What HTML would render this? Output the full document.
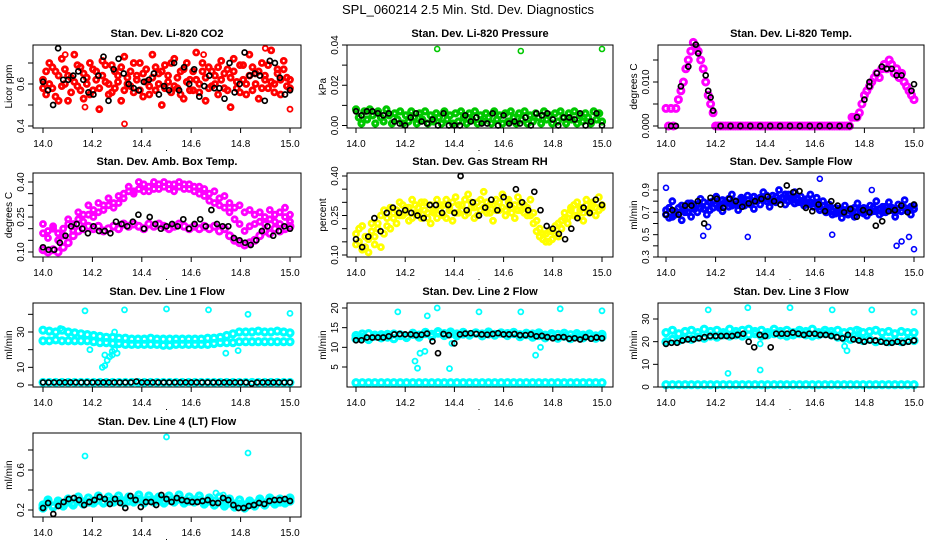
<!DOCTYPE html>
<html><head><meta charset="utf-8"><style>
body{margin:0;background:#fff;}
svg{display:block;font-family:"Liberation Sans",sans-serif;}
</style></head><body>
<svg id="chart" width="936" height="540" viewBox="0 0 936 540">
<rect width="936" height="540" fill="#fff"/>
<text x="468" y="14" font-size="13" text-anchor="middle">SPL_060214  2.5 Min. Std. Dev. Diagnostics</text>
</svg>
<script>
// ---- data arrays ----
const xTicks = [14.0,14.2,14.4,14.6,14.8,15.0];
const xTickLabels = ["14.0","14.2","14.4","14.6","14.8","15.0"];

const co2Red = [0.62,0.55,0.70,0.58,0.66,0.52,0.72,0.60,0.64,0.56,0.74,0.59,0.68,0.53,0.63,0.70,0.57,0.66,0.48,0.71,0.61,0.55,0.69,0.58,0.64,0.52,0.73,0.60,0.66,0.56,0.62,0.70,0.54,0.67,0.59,0.74,0.57,0.65,0.50,0.69,0.61,0.56,0.72,0.58,0.66,0.53,0.70,0.62,0.57,0.75,0.60,0.66,0.52,0.68,0.59,0.64,0.55,0.71,0.58,0.67,0.49,0.72,0.61,0.56,0.69,0.60,0.74,0.57,0.65,0.53,0.70,0.62,0.58,0.76,0.60,0.67,0.55,0.71,0.63,0.58];
const co2Red2 = [0.58,0.66,0.60,0.68,0.54,0.64,0.59,0.67,0.52,0.63,0.61,0.69,0.57,0.65,0.60,0.55,0.67,0.62,0.58,0.64,0.69,0.60,0.56,0.66,0.61,0.68,0.57,0.63,0.59,0.70,0.64,0.57,0.65,0.61,0.55,0.63,0.68,0.60,0.66,0.58,0.64,0.70,0.59,0.63,0.55,0.67,0.61,0.57,0.66,0.62,0.56,0.70,0.63,0.58,0.66,0.60,0.68,0.62,0.65,0.57,0.63,0.66,0.58,0.69,0.62,0.55,0.64,0.68,0.60,0.66,0.58,0.64,0.69,0.61,0.56,0.65,0.62,0.67,0.59,0.62];
const co2OutX = [14.33,15.0,14.9,14.17,14.09,14.65];
const co2OutY = [0.41,0.48,0.77,0.49,0.74,0.74];
const co2Black = [0.61,0.57,0.50,0.77,0.62,0.62,0.64,0.66,0.62,0.56,0.55,0.64,0.73,0.52,0.67,0.72,0.65,0.60,0.58,0.57,0.61,0.62,0.65,0.55,0.59,0.57,0.70,0.57,0.68,0.60,0.67,0.54,0.59,0.64,0.58,0.58,0.53,0.70,0.56,0.60,0.75,0.64,0.65,0.64,0.52,0.71,0.70,0.63,0.55,0.57];

const presGreen = [0.008,0.004,0.001,0.007,0.003,0.008,0.005,0.001,0.007,0.004,0.002,0.008,0.005,0.001,0.006,0.003,0.007,0.001,0.005,0.002,0.007,0.004,0.001,0.006,0.003,0.007,0.001,0.005,0.002,0.006,0.004,0.001,0.007,0.003,0.005,0.001,0.006,0.002,0.007,0.004,0.001,0.006,0.003,0.007,0.001,0.005,0.002,0.006,0.004,0.001,0.007,0.003,0.005,0.001,0.006,0.002,0.007,0.004,0.001,0.006,0.003,0.007,0.001,0.005,0.002,0.006,0.004,0.001,0.007,0.003,0.005,0.001,0.006,0.002,0.007,0.004,0.001,0.006,0.003,0.007,0.001,0.005,0.002,0.006,0.004,0.001,0.007,0.003,0.006,0.002];
const presOutX = [14.33,14.67,15.0];
const presOutY = [0.038,0.037,0.038];
const presBlack = [0.007,0.005,0.007,0.007,0.006,0.005,0.006,0.002,0.001,0.000,0.004,0.006,0.002,0.001,0.003,0.000,0.006,0.000,0.000,0.000,0.005,0.002,0.004,0.001,0.001,0.006,0.000,0.005,0.001,0.002,0.001,0.004,0.000,0.006,0.005,0.006,0.003,0.000,0.004,0.004,0.003,0.006,0.000,0.002,0.006,0.000];

const tempMag = [0.004,0.0,0.004,0.0,0.004,0.006,0.008,0.010,0.013,0.015,0.017,0.019,0.018,0.017,0.015,0.013,0.010,0.007,0.005,0.003,0.0,
0,0,0,0,0,0,0,0,0,0,0,0,0,0,0,0,0,0,0,0,0,0,0,0,0,0,0,0,0,0,0,0,0,0,0,0,0,0,0,0,0,0,0,0,0,0,0,0,0,0,0,0,0,0,
0.002,0.002,0.002,0.003,0.005,0.007,0.008,0.009,0.010,0.011,0.012,0.011,0.013,0.014,0.013,0.015,0.014,0.012,0.013,0.011,0.012,0.010,0.009,0.008,0.007,0.006];
const tempBlackX = [14.02,14.04,14.06,14.09,14.12,14.13,14.16,14.17,14.18,14.19,14.22,14.26,14.30,14.34,14.38,14.42,14.46,14.50,14.54,14.58,14.62,14.66,14.70,14.74,14.77,14.80,14.82,14.82,14.85,14.87,14.89,14.91,14.93,14.95,14.99,15.0];
const tempBlackY = [0,0,0.009,0.0135,0.0185,0.0165,0.0115,0.008,0.0065,0.0035,0,0,0,0,0,0,0,0,0,0,0,0,0,0,0.002,0.006,0.010,0.009,0.012,0.0135,0.013,0.013,0.0115,0.0115,0.008,0.0095];

const ambUpper = [0.22,0.19,0.21,0.18,0.20,0.24,0.22,0.27,0.26,0.30,0.28,0.31,0.30,0.33,0.31,0.34,0.33,0.36,0.35,0.37,0.36,0.38,0.37,0.39,0.38,0.37,0.39,0.38,0.37,0.39,0.36,0.38,0.37,0.35,0.36,0.33,0.34,0.31,0.29,0.30,0.27,0.28,0.26,0.27,0.25,0.28,0.26,0.27,0.29,0.26];
const ambMid = [0.18,0.16,0.20,0.15,0.17,0.22,0.19,0.24,0.23,0.26,0.25,0.27,0.28,0.30,0.29,0.31,0.35,0.38,0.36,0.40,0.39,0.36,0.40,0.37,0.40,0.39,0.36,0.40,0.39,0.37,0.38,0.35,0.34,0.32,0.31,0.30,0.29,0.27,0.24,0.22,0.19,0.21,0.22,0.23,0.22,0.24,0.23,0.22,0.25,0.23];
const ambLower = [0.11,0.10,0.11,0.10,0.12,0.14,0.17,0.19,0.20,0.21,0.20,0.21,0.19,0.20,0.21,0.20,0.22,0.21,0.22,0.21,0.20,0.22,0.21,0.22,0.21,0.20,0.21,0.22,0.21,0.20,0.21,0.20,0.21,0.20,0.21,0.19,0.20,0.17,0.15,0.14,0.13,0.14,0.15,0.17,0.19,0.18,0.20,0.19,0.20,0.21];
const ambBlack = [0.12,0.11,0.11,0.14,0.17,0.21,0.22,0.20,0.18,0.21,0.19,0.19,0.18,0.23,0.22,0.21,0.23,0.26,0.20,0.25,0.22,0.20,0.21,0.22,0.21,0.24,0.20,0.22,0.24,0.21,0.28,0.22,0.21,0.21,0.16,0.15,0.14,0.13,0.15,0.19,0.21,0.17,0.19,0.21,0.20];

const rhYellow = [0.14,0.20,0.12,0.17,0.11,0.19,0.14,0.22,0.13,0.18,0.24,0.20,0.26,0.22,0.30,0.25,0.28,0.23,0.31,0.26,0.28,0.24,0.30,0.26,0.22,0.27,0.24,0.29,0.25,0.31,0.27,0.23,0.32,0.26,0.29,0.25,0.33,0.28,0.24,0.30,0.27,0.34,0.26,0.29,0.23,0.31,0.27,0.33,0.25,0.30,0.28,0.24,0.32,0.27,0.29,0.25,0.31,0.26,0.23,0.20,0.18,0.15,0.19,0.16,0.21,0.17,0.20,0.24,0.22,0.28,0.25,0.30,0.27,0.23,0.31,0.26,0.29,0.25,0.32,0.28];
const rhYellow2 = [0.18,0.15,0.21,0.13,0.16,0.22,0.17,0.20,0.25,0.27,0.21,0.28,0.24,0.27,0.25,0.29,0.26,0.28,0.24,0.29,0.26,0.30,0.27,0.24,0.29,0.26,0.31,0.27,0.29,0.24,0.28,0.30,0.26,0.29,0.27,0.31,0.26,0.30,0.28,0.25,0.31,0.28,0.30,0.26,0.29,0.27,0.30,0.28,0.27,0.31,0.26,0.29,0.27,0.30,0.26,0.28,0.25,0.22,0.19,0.17,0.16,0.18,0.15,0.19,0.18,0.22,0.23,0.26,0.24,0.27,0.29,0.25,0.28,0.26,0.29,0.27,0.30,0.28,0.27,0.29];
const rhBlack = [0.16,0.13,0.17,0.24,0.19,0.26,0.28,0.26,0.27,0.26,0.25,0.24,0.29,0.29,0.26,0.29,0.26,0.40,0.27,0.30,0.25,0.28,0.31,0.27,0.32,0.29,0.35,0.30,0.27,0.34,0.27,0.21,0.20,0.18,0.16,0.20,0.24,0.28,0.26,0.31,0.29];

const flowBlue = [0.72,0.65,0.80,0.68,0.74,0.63,0.70,0.78,0.66,0.75,0.70,0.82,0.73,0.68,0.79,0.74,0.84,0.76,0.71,0.80,0.75,0.86,0.77,0.72,0.81,0.76,0.85,0.78,0.73,0.82,0.77,0.88,0.80,0.75,0.85,0.79,0.90,0.82,0.77,0.86,0.81,0.88,0.79,0.84,0.76,0.82,0.86,0.78,0.83,0.75,0.80,0.72,0.77,0.68,0.74,0.70,0.65,0.76,0.69,0.73,0.66,0.78,0.70,0.74,0.67,0.76,0.71,0.80,0.68,0.75,0.70,0.79,0.72,0.66,0.77,0.71,0.81,0.73,0.68,0.76];
const flowBlue2 = [0.68,0.74,0.66,0.71,0.69,0.76,0.72,0.70,0.78,0.73,0.77,0.74,0.79,0.76,0.72,0.80,0.77,0.74,0.81,0.78,0.82,0.76,0.80,0.78,0.83,0.79,0.81,0.77,0.84,0.80,0.83,0.81,0.85,0.82,0.80,0.84,0.81,0.83,0.86,0.80,0.83,0.78,0.82,0.79,0.81,0.77,0.79,0.75,0.78,0.72,0.76,0.70,0.74,0.71,0.69,0.73,0.70,0.72,0.68,0.71,0.74,0.70,0.73,0.69,0.72,0.70,0.74,0.71,0.73,0.70,0.75,0.72,0.74,0.70,0.73,0.71,0.74,0.72,0.75,0.73];
const flowOutX = [14.0,14.15,14.33,14.62,14.67,14.93,14.95,14.98,15.0,14.83,14.17];
const flowOutY = [0.92,0.49,0.48,1.0,0.50,0.40,0.44,0.48,0.37,0.90,0.57];
const flowBlack = [0.68,0.72,0.68,0.76,0.76,0.80,0.60,0.83,0.82,0.74,0.82,0.80,0.75,0.78,0.80,0.82,0.84,0.80,0.77,0.94,0.88,0.89,0.74,0.71,0.77,0.71,0.80,0.76,0.70,0.73,0.66,0.72,0.70,0.58,0.62,0.71,0.72,0.76,0.70,0.77];

const l1Upper = [31,30.5,30,31,30,29.5,29,28.5,28,27.5,27,27,26.5,26.5,26,26,26,26.5,26,26,26,26,26,26,26,26,26.5,26.5,27,28,29,30,30,30,30.5,30,30,30.5,30,29.5];
const l1Lower = [25,25,25.5,25,25,25,25,25,24.5,24,24,23.5,23.5,23,23,23,23,23,23,22.5,22.5,23,23,23,23,23,23,23.5,24,24,24,24.5,24.5,24.5,24.5,24.5,24.5,24.5,24.5,24.5];
const l1Base = [1.5,1.5,1.5,1.5,1.5,1.5,1.5,1.5,1.5,1.5,1.5,1.5,1.5,1.5,1.5,1.5,1.5,1.5,1.5,1.5,1.5,1.5,1.5,1.5,1.5,1.5,1.5,1.5,1.5,1.5,1.5,1.5,1.5,1.5,1.5,1.5,1.5,1.5,1.5,1.5];
const l1OutX = [14.24,14.25,14.26,14.27,14.28,14.28,14.29,14.30,14.25,14.17,14.33,14.5,14.67,14.83,15.0,14.29,14.74,14.79,14.07,14.19];
const l1OutY = [10,11,14,16,17,19,20,18,17,42,42.5,43,42.5,40,40.5,30,18,19.5,32,20];
const l1Black = [1.5,1.5,1.5,1.5,1.5,1.5,1.5,1.5,1.5,1.5,1.5,1.5,1.5,1.5,1.5,1.5,1.5,2,1.5,1.5,1.5,1.5,1.5,1.5,1.5,1.5,1.5,1.5,1.5,1.5,1.5,1.5,1.5,1.5,1.5,1.5,1.5,1.5,0.8,1.5,1.5,1.5,1.5,1.5,1.5,1.5];

const l2Band = [13,12.5,13.5,12.8,13.2,12.6,13.4,13,12.7,13.6,13.1,13.8,13.3,14,13.5,13.9,13.4,13.8,13.2,13.7,13.4,13.9,13.3,13.7,13.5,13.8,13.2,13.6,13.4,13.7,13.1,13.5,13.3,13.6,13.2,13.5,13.1,13.4,12.9,13.3];
const l2Band2 = [12.2,13.4,12,13.1,12.4,13.3,12.2,13.2,12.5,13.3,12.6,13.5,12.8,13.6,13,13.5,12.9,13.4,13.1,13.6,12.9,13.4,13.1,13.6,13,13.5,12.7,13.2,12.6,13,12.4,12.9,12.3,12.8,12.2,12.7,12.4,12.9,12.3,12.6];
const l2Base = [1,1,1,1,1,1,1,1,1,1,1,1,1,1,1,1,1,1,1,1,1,1,1,1,1,1,1,1,1,1,1,1,1,1,1,1,1,1,1,1];
const l2OutX = [14.17,14.29,14.33,14.24,14.25,14.26,14.28,14.38,14.39,14.5,14.67,14.83,15.0,14.73,14.75];
const l2OutY = [19,18,20,6.5,4.7,8.5,9,4.6,11,19,19,19.8,19.3,8,10];
const l2Black = [11.8,11.8,12.5,12.5,12.5,12.5,12.8,13.3,13.4,13.3,13.3,13.1,13.2,13.5,11.5,8.5,13.4,13.1,11,13.3,13.5,13.6,13.4,13.3,13.2,13.4,13.6,13.3,13.3,13.4,13.1,13.1,13.3,12.8,12.9,12.6,12.3,12.6,12.6,12.2,12.3,12,12.6,12.2,12.5,12.3];

const l3Band = [24,25,23.5,24.5,25,24,25.5,24.5,25,24,25.5,24.5,25,25.5,24.5,25,24,25.5,24.5,25,24,25,24.5,25.5,24,25,24.5,25,24,24.5,25,24,24.5,25,24,24.5,23.5,24.5,24,24];
const l3Band2 = [20,21,20.5,21.5,21,22,21.5,22.5,22,23,22.5,23,22.5,23,23.5,22.5,23,23.5,23,22.5,23,23.5,23,22.5,23,23.5,23,22,21.5,21,21.5,20.5,21,20,20.5,20,20.5,20,20.5,20.5];
const l3Base = [1,1,1,1,1,1,1,1,1,1,1,1,1,1,1,1,1,1,1,1,1,1,1,1,1,1,1,1,1,1,1,1,1,1,1,1,1,1,1,1];
const l3OutX = [14.17,14.33,14.5,14.67,14.83,15.0,14.25,14.38,14.38,14.72,14.73,14.78];
const l3OutY = [34,35,35,34,34,33,6,7.5,19,18,16,25];
const l3Black = [19,19.5,19.5,20.5,21,21,21.5,22,22.5,22.5,22.5,22.5,22.5,23,23.5,20,17.5,23,22.5,17.5,23.5,23.5,23.5,24,23.5,23,23.5,23.5,23,23,22.5,22,21.5,23,21,20.5,20,20.5,20.5,20,19.5,19.5,20,19.5,20,20.5];

const l4Band = [0.25,0.30,0.24,0.29,0.26,0.31,0.27,0.33,0.28,0.32,0.29,0.34,0.28,0.33,0.30,0.34,0.29,0.33,0.30,0.35,0.29,0.34,0.30,0.33,0.29,0.34,0.30,0.35,0.29,0.33,0.30,0.34,0.28,0.32,0.29,0.33,0.27,0.31,0.26,0.30,0.25,0.29,0.26,0.31,0.27,0.32,0.28,0.31,0.29,0.32];
const l4Band2 = [0.22,0.27,0.23,0.26,0.24,0.28,0.25,0.29,0.26,0.28,0.27,0.30,0.27,0.29,0.28,0.30,0.27,0.29,0.28,0.31,0.27,0.30,0.28,0.30,0.27,0.30,0.28,0.31,0.27,0.29,0.28,0.30,0.26,0.29,0.25,0.28,0.24,0.27,0.23,0.26,0.22,0.26,0.24,0.28,0.25,0.29,0.26,0.28,0.27,0.29];
const l4OutX = [14.17,14.5,14.83,14.7,14.73];
const l4OutY = [0.74,0.93,0.77,0.37,0.35];
const l4Black = [0.22,0.27,0.16,0.24,0.28,0.31,0.32,0.30,0.25,0.28,0.30,0.33,0.31,0.26,0.31,0.27,0.22,0.34,0.30,0.23,0.28,0.28,0.25,0.35,0.31,0.28,0.32,0.30,0.29,0.28,0.28,0.29,0.30,0.27,0.27,0.32,0.30,0.25,0.22,0.22,0.24,0.25,0.27,0.26,0.29,0.30,0.30,0.31,0.29];

// ---- layout ----
const svg = document.getElementById('chart');
const NS = 'http://www.w3.org/2000/svg';
const cols = [{l:33,r:301,x0:43,x1:290},{l:347,r:613,x0:356,x1:602},{l:658,r:924,x0:666,x1:914}];
const rows = [{t:45,b:128},{t:173,b:257},{t:303,b:387},{t:433,b:517}];
function mk(tag, attrs, parent){const e=document.createElementNS(NS,tag);for(const k in attrs)e.setAttribute(k,attrs[k]);(parent||svg).appendChild(e);return e;}

function panel(cfg){
  const c=cols[cfg.col], r=rows[cfg.row];
  const g=mk('g',{});
  
  
  const xs=v=>c.x0+(v-14)*(c.x1-c.x0);
  const ys=v=>cfg.p0+(v-cfg.v0)*(cfg.p1-cfg.p0)/(cfg.v1-cfg.v0);
  const cx=(c.l+c.r)/2;
  const t=mk('text',{x:cx,y:r.t-8,'font-size':11,'font-weight':'bold','text-anchor':'middle'},g);
  t.textContent=cfg.title;
  
  
  cfg.series.forEach(s=>{
    const isBlack = s.color==='#000';
    const sg=mk('g',{fill:'none',stroke:s.color,'stroke-width':s.sw||(isBlack?1.7:2.8)},g);
    
    
    const n=s.y.length;
    for(let i=0;i<n;i++){
      const xv = s.x ? s.x[i] : 14 + i/(n-1);
      const p=mk('circle',{cx:xs(xv).toFixed(1),cy:ys(s.y[i]).toFixed(1),r:s.r||2.5},sg);
      
      
    }
  });
  const box=mk('rect',{x:c.l,y:r.t,width:c.r-c.l,height:r.b-r.t,fill:'none',stroke:'#000','stroke-width':1},g);
  
  
  const xa=mk('g',{},g);
  
  
  mk('line',{x1:c.x0,x2:c.x1,y1:r.b,y2:r.b,stroke:'#000'},xa);
  xTicks.forEach((v,i)=>{
    mk('line',{x1:xs(v),x2:xs(v),y1:r.b,y2:r.b+5,stroke:'#000'},xa);
    const tl=mk('text',{x:xs(v),y:r.b+19,'font-size':10,'text-anchor':'middle'},xa);
    tl.textContent=xTickLabels[i];
    
    
  });
  mk('rect',{x:xs(14.5)-0.5,y:r.b+22,width:1,height:1,fill:'#000'},xa);
  const ya=mk('g',{},g);
  
  
  mk('line',{x1:c.l,x2:c.l,y1:ys(cfg.ticks[0]),y2:ys(cfg.ticks[cfg.ticks.length-1]),stroke:'#000'},ya);
  cfg.ticks.forEach((v,i)=>{
    const y=ys(v);
    mk('line',{x1:c.l-5,x2:c.l,y1:y,y2:y,stroke:'#000'},ya);
    if(cfg.labels[i]){
      const tl=mk('text',{x:0,y:0,'font-size':10,'text-anchor':'middle',transform:`translate(${c.l-9},${y}) rotate(-90)`},ya);
      tl.textContent=cfg.labels[i];
      
      
    }
  });
  const yl=mk('text',{x:0,y:0,'font-size':10,'text-anchor':'middle',transform:`translate(${c.l-21},${(r.t+r.b)/2}) rotate(-90)`},ya);
  yl.textContent=cfg.ylabel;
  
  
}

const RED='#ff0000',GRN='#00c800',MAG='#ff00ff',YEL='#ffff00',BLU='#0000ff',CYN='#00ffff',BLK='#000';

panel({name:'panel-co2',col:0,row:0,title:'Stan. Dev. Li-820 CO2',ylabel:'Licor ppm',v0:0.4,p0:126,v1:0.6,p1:84,
  ticks:[0.4,0.5,0.6,0.7],labels:['0.4','','0.6',''],
  series:[{name:'co2-red',y:co2Red,color:RED},{name:'co2-red-2',y:co2Red2,color:RED},{name:'co2-red-outliers',x:co2OutX,y:co2OutY,color:RED,sw:1.8},{name:'co2-black',y:co2Black,color:BLK}]});
panel({name:'panel-pressure',col:1,row:0,title:'Stan. Dev. Li-820 Pressure',ylabel:'kPa',v0:0,p0:125.5,v1:0.04,p1:45,
  ticks:[0,0.01,0.02,0.03,0.04],labels:['0.00','','0.02','','0.04'],
  series:[{name:'pressure-green',y:presGreen,color:GRN,sw:3.2},{name:'pressure-green-outliers',x:presOutX,y:presOutY,color:GRN,sw:1.6},{name:'pressure-black',y:presBlack,color:BLK}]});
panel({name:'panel-li820-temp',col:2,row:0,title:'Stan. Dev. Li-820 Temp.',ylabel:'degrees C',v0:0,p0:126,v1:0.01,p1:82,
  ticks:[0,0.005,0.01,0.015],labels:['0.000','','0.010',''],
  series:[{name:'temp-magenta',y:tempMag,color:MAG,sw:3,r:3},{name:'temp-black',x:tempBlackX,y:tempBlackY,color:BLK}]});
panel({name:'panel-amb-box-temp',col:0,row:1,title:'Stan. Dev. Amb. Box Temp.',ylabel:'degrees C',v0:0.10,p0:252,v1:0.40,p1:182,
  ticks:[0.10,0.15,0.20,0.25,0.30,0.35,0.40],labels:['0.10','','','0.25','','','0.40'],
  series:[{name:'amb-upper',y:ambUpper,color:MAG},{name:'amb-mid',y:ambMid,color:MAG},{name:'amb-lower',y:ambLower,color:MAG,sw:3,r:3},{name:'amb-black',y:ambBlack,color:BLK}]});
panel({name:'panel-gas-rh',col:1,row:1,title:'Stan. Dev. Gas Stream RH',ylabel:'percent',v0:0.10,p0:255,v1:0.40,p1:176,
  ticks:[0.10,0.15,0.20,0.25,0.30,0.35,0.40],labels:['0.10','','','0.25','','','0.40'],
  series:[{name:'rh-yellow',y:rhYellow,color:YEL},{name:'rh-yellow-2',y:rhYellow2,color:YEL},{name:'rh-black',y:rhBlack,color:BLK}]});
panel({name:'panel-sample-flow',col:2,row:1,title:'Stan. Dev. Sample Flow',ylabel:'ml/min',v0:0.3,p0:257,v1:0.9,p1:190,
  ticks:[0.3,0.4,0.5,0.6,0.7,0.8,0.9],labels:['0.3','','0.5','','0.7','','0.9'],
  series:[{name:'flow-blue',y:flowBlue,color:BLU},{name:'flow-blue-2',y:flowBlue2,color:BLU,sw:3},{name:'flow-blue-outliers',x:flowOutX,y:flowOutY,color:BLU,sw:1.6},{name:'flow-black',y:flowBlack,color:BLK}]});
panel({name:'panel-line1-flow',col:0,row:2,title:'Stan. Dev. Line 1 Flow',ylabel:'ml/min',v0:0,p0:385,v1:30,p1:332,
  ticks:[0,10,20,30,40],labels:['0','10','','30',''],
  series:[{name:'line1-upper',y:l1Upper,color:CYN,sw:3.2,r:3},{name:'line1-lower',y:l1Lower,color:CYN,sw:3.2,r:3},{name:'line1-base',y:l1Base,color:CYN,sw:3,r:3},{name:'line1-outliers',x:l1OutX,y:l1OutY,color:CYN,sw:1.8},{name:'line1-black',y:l1Black,color:BLK,sw:1.6}]});
panel({name:'panel-line2-flow',col:1,row:2,title:'Stan. Dev. Line 2 Flow',ylabel:'ml/min',v0:5,p0:367,v1:20,p1:308,
  ticks:[5,10,15,20],labels:['5','10','15','20'],
  series:[{name:'line2-band',y:l2Band,color:CYN,sw:3.2,r:3},{name:'line2-band-2',y:l2Band2,color:CYN,sw:3.2,r:3},{name:'line2-base',y:l2Base,color:CYN,sw:3.2,r:3},{name:'line2-outliers',x:l2OutX,y:l2OutY,color:CYN,sw:1.8},{name:'line2-black',y:l2Black,color:BLK}]});
panel({name:'panel-line3-flow',col:2,row:2,title:'Stan. Dev. Line 3 Flow',ylabel:'ml/min',v0:0,p0:387,v1:30,p1:319,
  ticks:[0,10,20,30],labels:['0','10','20','30'],
  series:[{name:'line3-band',y:l3Band,color:CYN,sw:3.2,r:3},{name:'line3-band-2',y:l3Band2,color:CYN,sw:3.2,r:3},{name:'line3-base',y:l3Base,color:CYN,sw:3.2,r:3},{name:'line3-outliers',x:l3OutX,y:l3OutY,color:CYN,sw:1.8},{name:'line3-black',y:l3Black,color:BLK}]});
panel({name:'panel-line4-flow',col:0,row:3,title:'Stan. Dev. Line 4 (LT) Flow',ylabel:'ml/min',v0:0.2,p0:510,v1:0.6,p1:470,
  ticks:[0.2,0.4,0.6,0.8],labels:['0.2','','0.6',''],
  series:[{name:'line4-band',y:l4Band,color:CYN,sw:3.2,r:3},{name:'line4-band-2',y:l4Band2,color:CYN,sw:3.2,r:3},{name:'line4-outliers',x:l4OutX,y:l4OutY,color:CYN,sw:1.8},{name:'line4-black',y:l4Black,color:BLK}]});
</script>
</body></html>
